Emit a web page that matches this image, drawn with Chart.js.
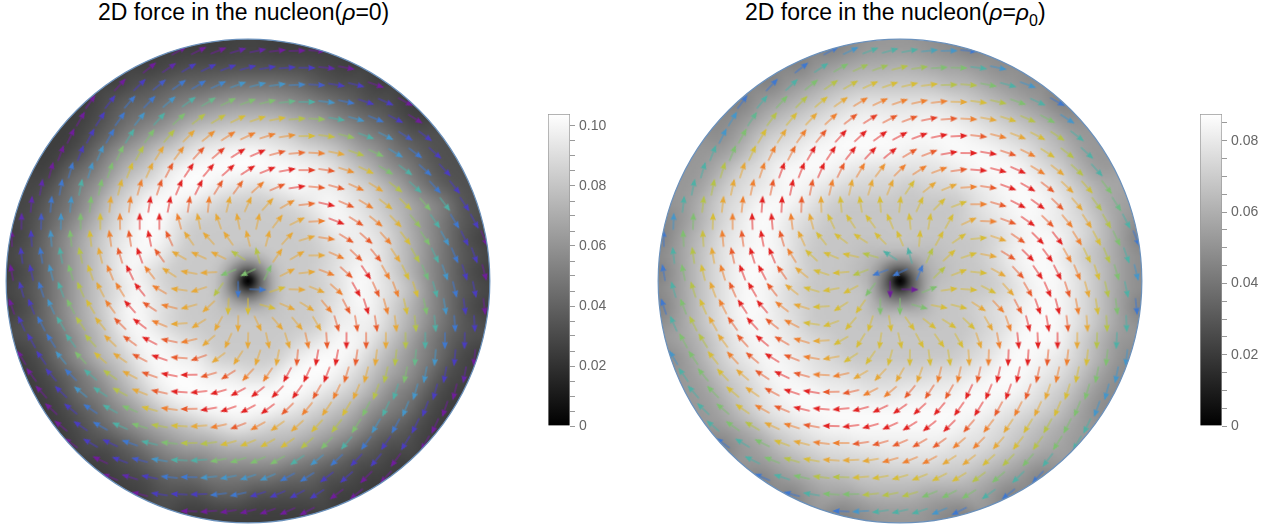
<!DOCTYPE html>
<html>
<head>
<meta charset="utf-8">
<style>
  body { margin: 0; background: #fff; width: 1278px; height: 529px; overflow: hidden; position: relative; }
  canvas { position: absolute; }
  .title { position: absolute; top: -2px; font: 23px "Liberation Sans", Arial, sans-serif; line-height: 28px; color: #000; white-space: nowrap; }
  .title sub { font-size: 16px; line-height: 0; }
</style>
</head>
<body>
<div class="title" style="left:98px">2D force in the nucleon(<i>ρ</i>=0)</div>
<div class="title" style="left:745px">2D force in the nucleon(<i>ρ</i>=<i>ρ</i><sub>0</sub>)</div>
<canvas id="disk0" width="490" height="490" style="left:3px;top:36px"></canvas>
<canvas id="bar0" width="80" height="336" style="left:540px;top:104px"></canvas>
<canvas id="disk1" width="490" height="490" style="left:655px;top:36px"></canvas>
<canvas id="bar1" width="80" height="336" style="left:1192px;top:104px"></canvas>
<script src="https://cdn.jsdelivr.net/npm/chart.js@4"></script>
<script>
const force0 = [
  [28,28,28,30,30,28,28,28],
  [28,31,35,35,35,35,35,35,35,31,28],
  [28,35,39,43,43,46,49,49,49,46,39,35,35,28],
  [28,35,43,43,49,54,58,62,62,62,58,54,49,43,35,35,28],
  [28,35,43,49,54,62,69,72,75,75,75,69,65,54,49,43,35,28],
  [28,35,43,54,62,69,81,85,88,88,88,85,75,72,65,54,49,39,35],
  [28,35,49,62,69,81,85,95,98,101,101,95,92,88,81,69,62,49,43,35],
  [28,43,49,62,75,81,95,101,101,101,101,101,101,98,95,85,75,62,54,43,35],
  [31,43,54,62,78,88,95,101,101,95,92,88,95,101,95,95,88,81,69,54,43,35],
  [31,43,49,62,81,88,101,101,95,88,81,81,81,85,92,101,95,88,78,72,62,54,35],
  [31,39,49,62,75,88,101,101,88,81,81,81,81,81,81,88,101,95,88,78,65,54,43,35],
  [28,35,49,62,75,88,95,101,95,81,81,81,81,81,81,81,88,95,95,88,75,62,49,35,28],
  [35,43,54,69,81,95,101,95,81,81,81,69,69,81,81,81,88,95,95,81,69,54,43,35],
  [28,35,49,62,75,88,101,88,81,81,81,62,62,62,81,81,88,95,101,88,75,60,49,35,28],
  [35,43,54,69,81,88,101,88,81,81,69,43,43,75,81,81,88,101,95,88,75,54,43,35],
  [28,35,49,62,75,88,101,95,88,81,81,75,75,75,81,81,88,95,101,88,75,62,49,35,28],
  [35,43,54,69,78,95,101,88,81,81,81,81,81,81,81,81,95,95,95,81,69,54,43,35],
  [35,43,54,69,81,95,101,95,88,81,81,81,81,81,88,95,101,95,81,69,54,43,35],
  [28,35,49,62,75,81,95,101,95,95,81,81,81,81,95,101,101,95,81,69,58,49,35,28],
  [28,35,43,54,69,81,95,101,101,95,95,88,88,101,101,101,92,81,69,62,49,35,30],
  [28,35,49,54,69,81,95,101,101,101,101,101,101,101,95,88,81,69,54,49,35,28],
  [28,35,43,54,62,75,88,95,101,101,101,101,95,88,81,75,62,54,49,35,28],
  [28,35,43,54,62,69,75,81,88,95,88,81,81,75,69,62,49,43,35,28],
  [28,35,35,43,54,62,69,69,75,75,75,75,69,62,54,43,35,35,28],
  [28,35,39,49,54,54,62,62,62,62,54,49,43,35,35,28],
  [28,31,35,43,43,49,49,49,49,43,43,35,35,28,28],
  [28,35,35,35,43,43,35,35,35,35,28,28],
  [28,28,28,28,28,28,28]
];
// degrees each arrow leans outward from the clockwise tangent
const lean0 = [
  [13,14,14,14,14,14,14,13],
  [14,14,15,15,15,15,15,15,15,14,14],
  [14,15,15,16,17,17,17,17,17,17,16,15,15,14],
  [13,14,15,17,17,18,19,20,20,20,19,18,17,17,15,14,13],
  [14,15,16,18,19,20,21,21,22,22,21,21,20,19,18,16,15,14],
  [14,15,17,19,20,21,23,24,25,25,25,24,23,21,20,19,17,15,14],
  [14,16,18,20,21,23,25,26,28,28,28,28,26,25,23,21,20,18,16,14],
  [14,16,18,20,22,24,27,28,30,32,33,32,30,28,27,24,22,20,18,16,14],
  [14,16,18,20,22,25,28,31,36,41,48,48,41,36,31,28,25,22,20,18,16,14],
  [14,16,18,20,23,26,29,33,44,57,62,66,62,57,44,33,29,26,23,20,18,16,14],
  [14,15,17,20,22,26,29,34,56,62,83,92,87,79,66,52,35,29,26,22,20,17,15,14],
  [13,15,17,20,22,25,29,35,53,71,90,100,104,100,90,71,53,35,29,25,22,20,17,15,13],
  [14,16,18,21,24,28,33,52,81,93,105,126,126,105,93,70,50,33,28,24,21,18,16,14],
  [13,15,17,20,22,26,30,43,63,88,105,135,205,131,105,88,63,43,30,26,22,20,17,15,13],
  [14,16,18,21,24,28,34,54,75,98,129,139,129,124,98,75,54,34,28,24,21,18,16,14],
  [13,15,17,20,22,26,30,42,58,82,100,125,90,127,100,82,58,42,30,26,22,20,17,15,13],
  [14,16,18,20,23,27,31,42,62,81,96,102,102,96,81,62,42,31,27,23,20,18,16,14],
  [14,16,18,21,23,27,31,41,58,74,84,88,84,74,58,41,31,27,23,21,18,16,14],
  [13,15,17,19,21,24,27,30,38,52,58,64,64,58,52,38,30,27,24,21,19,17,15,13],
  [13,15,17,19,21,24,27,29,33,39,44,47,44,39,33,29,27,24,21,19,17,15,13],
  [14,15,17,19,21,23,26,28,30,31,33,33,31,30,28,26,23,21,19,17,15,14],
  [14,15,17,18,20,22,24,26,27,28,28,28,27,26,24,22,20,18,17,15,14],
  [13,15,16,18,20,21,22,23,24,25,25,24,23,22,21,20,18,16,15,13],
  [13,14,15,17,18,20,21,21,22,22,22,21,21,20,18,17,15,14,13],
  [14,15,16,17,18,19,20,20,20,20,19,18,17,16,15,14],
  [13,14,15,16,16,17,17,18,17,17,16,16,15,14,13],
  [13,14,15,15,15,15,15,15,15,15,14,13],
  [13,14,14,14,14,14,13]
];
const force1 = [
  [44,48,52,52,52,50,48,44],
  [44,52,57,60,60,62,60,57,57,52,48],
  [44,52,57,62,65,67,67,67,67,62,62,57,52,48],
  [44,52,57,62,67,72,76,76,76,76,76,72,67,62,57,52,44],
  [48,54,62,67,72,76,80,82,80,80,82,80,76,72,67,62,57,48],
  [48,57,67,72,76,80,84,84,84,84,84,84,84,80,76,72,67,62,52],
  [52,57,67,76,78,84,84,84,84,84,80,80,84,84,84,80,76,67,62,52],
  [52,62,72,76,84,84,84,80,76,74,76,76,76,80,84,84,84,76,72,62,52],
  [52,62,72,76,80,84,80,76,72,72,72,67,72,72,76,80,84,84,80,72,65,57],
  [52,62,72,76,84,84,80,72,67,67,67,67,67,67,67,76,80,84,84,80,72,62,55],
  [48,57,67,76,84,84,76,72,67,67,67,67,67,67,67,72,76,80,84,80,76,72,62,52],
  [44,57,65,76,80,84,80,72,67,67,67,67,67,67,67,67,67,72,80,84,84,76,67,57,44],
  [52,62,72,80,84,84,76,67,67,67,62,52,52,62,67,67,72,80,84,84,76,67,62,52],
  [44,57,67,76,84,84,80,72,67,67,62,44,44,44,62,67,67,72,80,84,84,76,67,57,48],
  [52,62,72,80,84,80,72,67,67,67,57,30,30,57,67,67,67,72,80,84,80,72,62,52],
  [44,57,67,76,84,84,76,72,67,67,67,57,57,57,67,67,72,76,80,84,84,76,67,57,44],
  [52,62,72,80,84,80,76,67,67,67,67,67,67,67,67,67,72,76,84,84,80,72,62,52],
  [57,62,72,80,84,80,76,72,67,67,67,67,67,67,67,72,76,84,84,84,72,62,52],
  [48,57,67,76,80,84,80,76,72,67,67,67,67,67,67,72,76,84,84,80,76,67,57,48],
  [52,57,67,72,80,84,80,76,76,72,72,72,72,76,76,80,84,84,80,76,67,57,48],
  [52,57,67,72,80,84,84,80,80,76,76,80,80,80,84,84,84,80,72,67,57,48],
  [52,57,67,76,80,84,84,84,84,84,84,84,84,84,84,80,76,72,67,57,48],
  [52,57,62,72,76,80,84,84,84,84,84,84,84,80,76,72,67,62,57,52],
  [44,52,57,67,72,76,76,80,80,80,80,80,76,76,72,67,62,57,52],
  [52,57,62,67,72,72,72,76,76,76,72,72,67,62,57,52],
  [44,52,57,62,62,67,67,67,67,67,67,62,57,52,44],
  [44,52,57,57,62,62,62,57,57,57,52,44],
  [44,48,52,52,52,48,44]
];
const lean1 = [
  [12,13,13,13,13,13,13,12],
  [13,13,14,14,14,14,14,14,14,13,13],
  [13,14,14,15,16,16,16,16,16,16,15,14,14,13],
  [12,13,14,16,16,17,19,19,19,19,19,17,16,16,14,13,12],
  [13,14,15,16,18,20,21,22,24,24,22,21,20,18,16,15,14,13],
  [13,14,16,18,20,22,25,27,28,28,28,27,25,22,20,18,16,14,13],
  [13,15,16,19,22,25,28,31,34,35,35,34,31,28,25,22,19,16,15,13],
  [13,15,17,20,23,27,31,36,40,43,45,43,40,36,31,27,23,20,17,15,13],
  [13,15,17,20,24,29,35,40,50,56,62,62,56,50,40,35,29,24,20,17,15,13],
  [13,15,17,20,25,30,36,46,58,72,80,84,80,72,58,46,36,30,25,20,17,15,13],
  [13,14,16,20,24,30,36,49,66,84,100,103,105,107,100,74,54,41,30,24,20,16,14,13],
  [12,14,16,19,23,28,36,48,67,89,104,110,113,110,104,89,67,48,36,28,23,19,16,14,12],
  [13,15,18,21,27,34,45,63,88,105,115,126,126,115,105,88,63,45,34,27,21,18,15,13],
  [12,14,16,20,24,31,39,56,78,103,123,134,205,134,122,103,78,56,39,31,24,20,16,14,12],
  [14,15,18,21,27,34,47,68,93,108,127,140,130,128,108,93,68,47,34,27,21,18,15,14],
  [12,14,16,19,24,30,40,58,75,99,112,128,90,127,112,99,75,58,40,30,24,19,16,14,12],
  [13,15,17,21,26,33,41,56,78,98,107,112,112,107,98,78,56,41,33,26,21,17,15,13],
  [13,15,18,21,26,33,42,56,75,92,100,103,100,92,75,56,42,33,26,21,18,15,13],
  [12,14,16,18,22,27,33,39,52,66,76,82,82,76,66,52,39,33,27,22,18,16,14,12],
  [12,14,16,18,22,26,31,37,45,53,58,60,58,53,45,37,31,26,22,18,16,14,12],
  [13,14,16,18,21,26,29,33,37,42,45,45,42,37,33,29,26,21,18,16,14,13],
  [13,14,16,18,20,24,27,30,32,34,35,34,32,30,27,24,20,18,16,14,13],
  [12,14,15,17,19,21,24,26,27,28,28,27,26,24,21,19,17,15,14,12],
  [12,13,14,16,17,19,20,22,23,23,23,22,20,19,17,16,14,13,12],
  [13,14,15,16,17,18,19,19,19,19,18,17,16,15,14,13],
  [12,13,14,15,15,16,16,16,16,16,15,15,14,13,12],
  [12,13,14,14,14,14,14,14,14,14,13,12],
  [12,13,13,13,13,13,12]
];

// top of each colour bar and its ticks
const barMax0 = 0.104;
const barMax1 = 0.0875;
const barTicks0 = [0,0.005,0.01,0.015,0.02,0.025,0.03,0.035,0.04,0.045,0.05,0.055,0.06,0.065,0.07,0.075,0.08,0.085,0.09,0.095,0.1];
const barText0 = ["0","","","","0.02","","","","0.04","","","","0.06","","","","0.08","","","","0.10"];
const barTicks1 = [0,0.005,0.01,0.015,0.02,0.025,0.03,0.035,0.04,0.045,0.05,0.055,0.06,0.065,0.07,0.075,0.08,0.085];
const barText1 = ["0","","","","0.02","","","","0.04","","","","0.06","","","","0.08",""];

// rainbow used for the arrows, and the force each colour sits at in each plot
const rainbow = ["#6f1d9b","#4a3cc0","#3f78cf","#4596c9","#4fb0a5","#7fbf70","#b5c248","#d6bd38","#e6a838","#ee8030","#e85a2c","#e22222"];
const rainbowAt0 = [28,35,43,49,54,62,69,75,81,88,95,101];
const rainbowAt1 = [30,38,44,48,52,57,62,67,72,76,80,84];

// dark hole in the middle: distance in grid steps, share of the grey kept
const coreDist = [0,0.2,0.4,0.6,0.8,1,1.2,1.4,1.7,2.1];
const coreShade = [0,0.1,0.3,0.48,0.62,0.73,0.83,0.9,0.97,1];

const diskRadius = 12.28;
const axisLimit = 12.44;
const rowStep = 0.866;

function hexToRgb(h) {
  return [1, 3, 5].map(i => parseInt(h.substr(i, 2), 16));
}

function arrowColor(v, at) {
  let i = 0;
  while (i < at.length - 2 && v > at[i + 1]) i++;
  let t = (v - at[i]) / (at[i + 1] - at[i]);
  t = Math.max(0, Math.min(1, t));
  const a = hexToRgb(rainbow[i]), b = hexToRgb(rainbow[i + 1]);
  return a.map((c, n) => Math.round(c + (b[n] - c) * t)).join(",");
}

const arrowCache = {};
function arrowImage(rgb) {
  if (arrowCache[rgb]) return arrowCache[rgb];
  const c = document.createElement("canvas");
  c.width = 24; c.height = 24;
  const g = c.getContext("2d");
  g.strokeStyle = "rgba(" + rgb + ",0.9)";
  g.lineWidth = 1.1;
  g.beginPath(); g.moveTo(12, 20.5); g.lineTo(12, 9); g.stroke();
  g.fillStyle = "rgb(" + rgb + ")";
  g.beginPath();
  g.moveTo(12, 3.2); g.lineTo(15, 10.8); g.lineTo(12, 10); g.lineTo(9, 10.8);
  g.closePath(); g.fill();
  arrowCache[rgb] = c;
  return c;
}

function gridPoints(rows) {
  const out = [];
  rows.forEach((row, k) => {
    row.forEach((v, j) => {
      out.push({ x: j - (row.length - 1) / 2, y: (13.5 - k) * rowStep, v: v });
    });
  });
  return out;
}

function coreFactor(d) {
  for (let i = 1; i < coreDist.length; i++) {
    if (d <= coreDist[i]) {
      const t = (d - coreDist[i - 1]) / (coreDist[i] - coreDist[i - 1]);
      return coreShade[i - 1] + (coreShade[i] - coreShade[i - 1]) * t;
    }
  }
  return 1;
}

// grey field: weighted mean of the arrow forces, at half size then scaled up
function greyField(chart, pts, vmax) {
  const sx = chart.scales.x, sy = chart.scales.y;
  const W = Math.ceil(chart.width / 2), H = Math.ceil(chart.height / 2);
  const off = document.createElement("canvas");
  off.width = W; off.height = H;
  const g = off.getContext("2d");
  const img = g.createImageData(W, H);
  const cells = pts.filter(p => Math.hypot(p.x, p.y) > 1.6).map(p => [sx.getPixelForValue(p.x), sy.getPixelForValue(p.y), p.v]);
  const x0 = sx.getPixelForValue(0), y0 = sy.getPixelForValue(0);
  const unit = sx.getPixelForValue(1) - x0;
  const sig2 = 2 * 10.5 * 10.5;
  for (let j = 0; j < H; j++) {
    for (let i = 0; i < W; i++) {
      const px = i * 2 + 1, py = j * 2 + 1;
      const d = Math.hypot(px - x0, py - y0) / unit;
      if (d > diskRadius + 0.2) continue;
      let sum = 0, wt = 0;
      for (let c = 0; c < cells.length; c++) {
        const dx = px - cells[c][0], dy = py - cells[c][1];
        const r2 = dx * dx + dy * dy;
        if (r2 > 2500) continue;
        const w = Math.exp(-r2 / sig2);
        sum += w * cells[c][2]; wt += w;
      }
      const f = (wt > 0 ? sum / wt : 0) / vmax;
      // a little more contrast, the ridges in the picture reach white
      const shade = Math.max(0, (f - 0.27) * 1.08 + 0.24);
      const grey = Math.min(255, shade * coreFactor(d) * 255);
      const n = (j * W + i) * 4;
      img.data[n] = img.data[n + 1] = img.data[n + 2] = grey;
      img.data[n + 3] = 255;
    }
  }
  g.putImageData(img, 0, 0);
  return off;
}

function diskChart(id, forceRows, leanRows, vmax, colorAt) {
  const pts = gridPoints(forceRows);
  const leans = leanRows.flat();
  const diskPath = chart => {
    const sx = chart.scales.x, sy = chart.scales.y;
    const cx = sx.getPixelForValue(0), cy = sy.getPixelForValue(0);
    const rad = sx.getPixelForValue(diskRadius) - cx;
    chart.ctx.beginPath();
    chart.ctx.arc(cx, cy, rad, 0, Math.PI * 2);
  };
  const fieldPlugin = {
    id: "field",
    beforeDatasetsDraw(chart) {
      const c = chart.ctx;
      if (!chart.$field) chart.$field = greyField(chart, pts, vmax);
      c.save();
      diskPath(chart);
      c.clip();
      c.imageSmoothingEnabled = true;
      c.drawImage(chart.$field, 0, 0, chart.$field.width * 2, chart.$field.height * 2);
      c.restore();
      // arrows stop at the rim
      c.save();
      diskPath(chart);
      c.clip();
    },
    afterDatasetsDraw(chart) {
      const c = chart.ctx;
      c.restore();
      c.strokeStyle = "#6a90bb";
      c.lineWidth = 1.2;
      diskPath(chart);
      c.stroke();
    }
  };
  return new Chart(id, {
    type: "scatter",
    data: {
      datasets: [{
        data: pts,
        parsing: false,
        radius: 10,
        clip: false,
        pointStyle: ctx => arrowImage(arrowColor(pts[ctx.dataIndex].v, colorAt)),
        rotation: ctx => {
          const p = pts[ctx.dataIndex];
          return Math.atan2(p.x, p.y) * 180 / Math.PI + 90 - leans[ctx.dataIndex];
        }
      }]
    },
    options: {
      responsive: false,
      animation: false,
      events: [],
      layout: { padding: 0, autoPadding: false },
      plugins: { legend: { display: false }, tooltip: { enabled: false }, title: { display: false } },
      scales: {
        x: { type: "linear", display: false, min: -axisLimit, max: axisLimit },
        y: { type: "linear", display: false, min: -axisLimit, max: axisLimit }
      }
    },
    plugins: [fieldPlugin]
  });
}

function barChart(id, vmax, ticks, text) {
  return new Chart(id, {
    type: "bar",
    data: {
      labels: [""],
      datasets: [{
        data: [vmax],
        barPercentage: 1,
        categoryPercentage: 1,
        borderWidth: 1,
        borderColor: "#9a9a9a",
        backgroundColor: ctx => {
          const a = ctx.chart.chartArea;
          if (!a) return "#888";
          const g = ctx.chart.ctx.createLinearGradient(0, a.bottom, 0, a.top);
          g.addColorStop(0, "#000");
          g.addColorStop(1, "#fff");
          return g;
        }
      }]
    },
    options: {
      responsive: false,
      animation: false,
      events: [],
      layout: { padding: { left: 8, right: 0, top: 10, bottom: 14 } },
      plugins: { legend: { display: false }, tooltip: { enabled: false } },
      scales: {
        x: { display: false },
        y: {
          position: "right",
          min: 0,
          max: vmax,
          border: { display: false },
          grid: { drawOnChartArea: false, tickLength: 5, tickColor: "#999", tickWidth: 1 },
          ticks: {
            autoSkip: false,
            padding: 4,
            color: "#666",
            font: { family: '"Liberation Sans", Arial, sans-serif', size: 14 },
            callback: (v, i) => text[i]
          },
          afterBuildTicks: s => { s.ticks = ticks.map(v => ({ value: v })); },
          afterFit: s => { s.width = 50; s.paddingTop = 0; s.paddingBottom = 0; }
        }
      }
    }
  });
}

diskChart("disk0", force0, lean0, barMax0 * 1000, rainbowAt0);
diskChart("disk1", force1, lean1, barMax1 * 1000, rainbowAt1);
barChart("bar0", barMax0, barTicks0, barText0);
barChart("bar1", barMax1, barTicks1, barText1);
</script>
</body>
</html>
